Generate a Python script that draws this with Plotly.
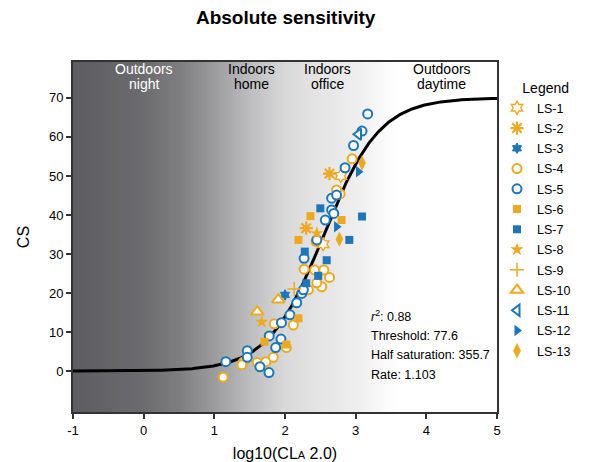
import numpy as np
import plotly.graph_objects as go

ORANGE = "#EFA91E"
BLUE = "#1C76BC"

# ---- data (log10 CLA, CS) ----
ls1_x = [2.54, 2.79]; ls1_y = [32.5, 50.0]
ls2_x = [2.63, 2.30]; ls2_y = [50.6, 36.6]
ls3_x = [2.00]; ls3_y = [19.5]
ls4_x = [1.125, 1.41, 1.39, 1.607, 1.73, 1.834, 1.848, 2.118, 2.02, 2.33, 2.52, 2.63, 2.45,
         2.27, 2.42, 2.55, 2.44, 2.78, 2.95, 2.73]
ls4_y = [-1.6, 2.3, 1.6, 2.2, 2.4, 3.5, 12.1, 11.8, 6.0, 20.8, 21.6, 24.0, 22.6,
         26.1, 25.9, 25.9, 33.2, 45.4, 54.4, 46.4]
ls5_x = [1.163, 1.466, 1.466, 1.645, 1.773, 1.868, 1.777, 1.943, 1.95, 2.07, 2.166, 2.237,
         2.26, 2.27, 2.45, 2.57, 2.66, 2.69, 2.66, 2.73, 2.85, 2.97, 3.09, 3.17]
ls5_y = [2.4, 5.2, 3.5, 1.1, -0.4, 6.0, 9.0, 8.2, 12.4, 14.4, 17.5, 19.9,
         20.8, 28.9, 33.6, 38.7, 41.3, 40.4, 44.3, 45.1, 52.1, 57.8, 61.5, 65.9]
ls6_x = [1.71, 2.02, 2.19, 2.19, 2.36, 2.80]
ls6_y = [7.5, 6.8, 13.5, 33.6, 39.7, 38.7]
ls7_x = [2.30, 2.47, 2.59, 2.28, 2.50, 2.91, 3.09]
ls7_y = [22.5, 24.4, 28.4, 30.6, 41.7, 33.6, 39.6]
ls8_x = [1.67, 2.45]; ls8_y = [12.6, 35.3]
ls9_x = [2.13]; ls9_y = [21.0]
ls10_x = [1.607, 1.905]; ls10_y = [15.2, 18.3]
ls11_x = [3.04]; ls11_y = [60.7]
ls12_x = [2.73, 3.04]; ls12_y = [37.0, 51.1]
ls13_x = [2.77, 3.09]; ls13_y = [33.8, 53.3]

# model parameters
threshold = 77.6
half_sat = 355.7
rate = 1.103
r2 = 0.88

region_top = ["Outdoors", "Indoors", "Indoors", "Outdoors"]
region_bot = ["night", "home", "office", "daytime"]
region_x = [0.0, 1.53, 2.6, 4.22]
region_col = ["white", "black", "black", "black"]

x_ticks = [-1, 0, 1, 2, 3, 4, 5]
x_labels = ["-1", "0", "1", "2", "3", "4", "5"]
y_ticks = [0, 10, 20, 30, 40, 50, 60, 70]

fig = go.Figure()

# gradient background
gx = np.linspace(-1.2, 5.2, 200)
fig.add_trace(go.Heatmap(
    x=gx, y=[-12, 82], z=[gx, gx], zmin=-1, zmax=5,
    colorscale=[[0.0, "#5d5d61"], [1/6, "#6c6c6f"], [1.5/6, "#7e7e81"], [2/6, "#9c9c9f"],
                [2.5/6, "#bdbdbf"], [3/6, "#d9d9da"], [3.5/6, "#e5e5e6"], [4/6, "#eeeeee"],
                [4.4/6, "#fafafa"], [4.6/6, "#ffffff"], [1.0, "#ffffff"]],
    showscale=False, hoverinfo="skip", showlegend=False))

# model curve
cx = np.linspace(-1, 5, 400)
cla = 10 ** cx
cs = 70 * (1 - 1 / (1 + (cla / half_sat) ** rate))
fig.add_trace(go.Scatter(x=cx, y=cs, mode="lines", line=dict(color="black", width=3),
                         showlegend=False, hoverinfo="skip"))

def add(name, xs, ys, symbol, fill, line, size=9, lw=1.8):
    fig.add_trace(go.Scatter(
        x=xs, y=ys, mode="markers", name=name, legendgroup=name,
        marker=dict(symbol=symbol, size=size, color=fill, line=dict(color=line, width=lw))))

add("LS-1", ls1_x, ls1_y, "hexagram", "white", ORANGE, 10, 1.4)
add("LS-2", ls2_x, ls2_y, "asterisk-open", ORANGE, ORANGE, 11, 2.2)
add("LS-3", ls3_x, ls3_y, "hexagram", BLUE, BLUE, 8, 1)
add("LS-4", ls4_x, ls4_y, "circle", "white", ORANGE, 9, 2)
add("LS-5", ls5_x, ls5_y, "circle", "white", BLUE, 9, 2)
add("LS-6", ls6_x, ls6_y, "square", ORANGE, ORANGE, 8, 0)
add("LS-7", ls7_x, ls7_y, "square", BLUE, BLUE, 8, 0)
add("LS-8", ls8_x, ls8_y, "star", ORANGE, ORANGE, 10, 0)
add("LS-9", ls9_x, ls9_y, "cross-thin-open", ORANGE, ORANGE, 10, 1.5)
add("LS-10", ls10_x, ls10_y, "triangle-up", "white", ORANGE, 11, 2)
add("LS-11", ls11_x, ls11_y, "triangle-left", "white", BLUE, 10, 2)
add("LS-12", ls12_x, ls12_y, "triangle-right", BLUE, BLUE, 10, 0)
add("LS-13", ls13_x, ls13_y, "diamond-tall", ORANGE, ORANGE, 11, 0)

FONT = "Liberation Sans, Arial, sans-serif"

annotations = []
for t1, t2, xv, c in zip(region_top, region_bot, region_x, region_col):
    annotations.append(dict(x=xv, y=77.5, xref="x", yref="y", text=t1, showarrow=False,
                            yanchor="middle", font=dict(size=14, color=c, family=FONT)))
    annotations.append(dict(x=xv, y=73.6, xref="x", yref="y", text=t2, showarrow=False,
                            yanchor="middle", font=dict(size=14, color=c, family=FONT)))

stats = ["<i>r</i><sup>2</sup>: %.2f" % r2, "Threshold: %.1f" % threshold,
         "Half saturation: %.1f" % half_sat, "Rate: %.3f" % rate]
for i, s in enumerate(stats):
    annotations.append(dict(x=3.19, y=14.1 - i * 5.0, xref="x", yref="y", text=s,
                            showarrow=False, xanchor="left", yanchor="middle",
                            font=dict(size=12.5, color="black", family=FONT)))

fig.update_layout(
    width=589, height=462,
    margin=dict(l=73, r=92, t=62, b=50),
    paper_bgcolor="white", plot_bgcolor="white",
    font=dict(family=FONT, color="black"),
    title=dict(text="<b>Absolute sensitivity</b>", x=0.485, xanchor="center", y=0.962,
               yanchor="middle", font=dict(size=19, family=FONT, color="black")),
    xaxis=dict(range=[-1, 5], tickvals=x_ticks, ticktext=x_labels, ticks="outside", ticklen=5,
               tickwidth=1.5, tickcolor="#333", showgrid=False, zeroline=False, showline=True,
               linecolor="#333", linewidth=2, mirror=True, tickfont=dict(size=13),
               automargin=False,
               title=dict(text="log10(CL<span style='font-size:11px'>A</span> 2.0)",
                          font=dict(size=16))),
    yaxis=dict(range=[-10.5, 79.2], tickvals=y_ticks, ticks="outside", ticklen=5, tickwidth=1.5,
               tickcolor="#333", showgrid=False, zeroline=False, showline=True, linecolor="#333",
               linewidth=2, mirror=True, tickfont=dict(size=13), automargin=False,
               title=dict(text="CS", font=dict(size=16))),
    legend=dict(x=1.0, y=0.963, xanchor="left", yanchor="top", tracegroupgap=1,
                title=dict(text="\u00a0" * 6 + "Legend", font=dict(size=14)),
                font=dict(size=12.5), itemwidth=30, bgcolor="rgba(0,0,0,0)"),
    annotations=annotations,
)

fig.write_html("out.html")
